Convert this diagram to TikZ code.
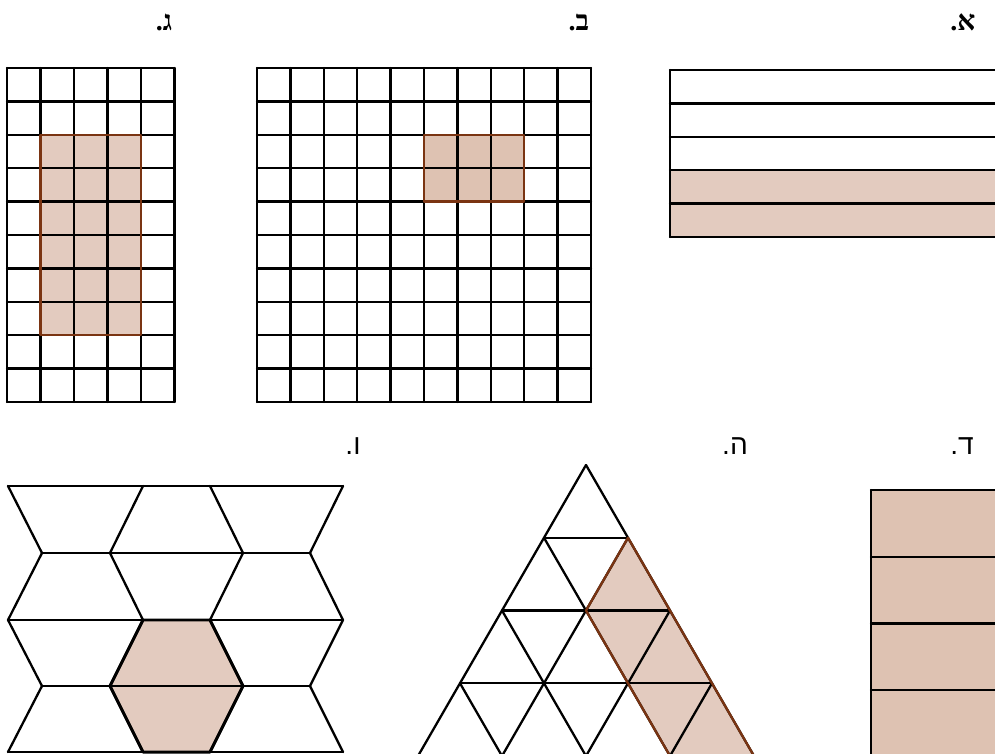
\documentclass[tikz,border=0pt]{standalone}
\usepackage{fontspec}
\usetikzlibrary{positioning}
\TeXXeTstate=1
\newfontfamily\hebserif[Script=Hebrew]{Liberation Serif}
\newfontfamily\hebsans[Script=Hebrew]{Liberation Sans}
\definecolor{tintlight}{HTML}{E3CBBF}
\definecolor{tintdark}{HTML}{DEC2B2}
\definecolor{rim}{HTML}{7A3412}
\tikzset{
  every picture/.style={line cap=round, line join=round},
  cell/.style={line width=1.3pt, black},
  patch/.style={line width=1.3pt, draw=rim},
  hexrim/.style={line width=1.7pt, black},
  % labels above each figure
  lbltop/.style={font=\hebserif\bfseries\fontsize{16}{18}\selectfont, inner sep=0pt},
  lblbot/.style={font=\hebsans\fontsize{16}{18}\selectfont, inner sep=0pt},
}

\begin{document}
\begin{tikzpicture}[x=0.02cm, y=-0.02cm]
  \useasboundingbox (0,0) rectangle (995,754);
  \clip (0,0) rectangle (995,754);
  % ---------- labels
  \node[lbltop] (la) at (963,22) {\beginR א.\endR};
  \node[lbltop] (lb) at (579,22) {\beginR ב.\endR};
  \node[lbltop] (lc) at (164,22) {\beginR ג.\endR};
  \node[lblbot] (ld) at (962,446) {\beginR ד.\endR};
  \node[lblbot] (le) at (735,446) {\beginR ה.\endR};
  \node[lblbot] (lf) at (353,446) {\beginR ו.\endR};
  % ---------- a: five strips, the lower two shaded
  \fill[tintlight] (670,170.2) rectangle (1000,237);
  \foreach \k in {0,...,5}
    \draw[cell] (670,{70+33.4*\k}) -- (1000,{70+33.4*\k});
  \draw[cell] (670,70) -- (670,237);
  % ---------- b: 10 x 10 squares, 2 x 3 shaded
  \fill[tintdark] (424,134.8) rectangle (524.2,201.6);
  \foreach \k in {0,...,10}{
    \draw[cell] ({257+33.4*\k},68) -- ({257+33.4*\k},402);
    \draw[cell] (257,{68+33.4*\k}) -- (591,{68+33.4*\k});
  }
  \draw[patch] (424,134.8) rectangle (524.2,201.6);
  % ---------- c: 5 x 10 squares, 3 x 6 shaded
  \fill[tintlight] (40.5,134.8) rectangle (141,335.2);
  \foreach \k in {0,...,5}
    \draw[cell] ({7+33.5*\k},68) -- ({7+33.5*\k},402);
  \foreach \k in {0,...,10}
    \draw[cell] (7,{68+33.4*\k}) -- (174.5,{68+33.4*\k});
  \draw[patch] (40.5,134.8) rectangle (141,335.2);
  % ---------- d: all strips shaded
  \fill[tintdark] (871,490) rectangle (1000,760);
  \foreach \k in {0,...,4}
    \draw[cell] (871,{490+66.7*\k}) -- (1000,{490+66.7*\k});
  \draw[cell] (871,490) -- (871,760);
  % ---------- e: triangle lattice, strip along the right side shaded
  \foreach \i in {0,...,4}
    \foreach \j in {0,...,\i}
      \coordinate (t\i\j) at ({586+84*(\j-\i/2)},{465+72.75*\i});
  \fill[tintlight] (t11) -- (t21) -- (t43) -- (t44) -- cycle;
  \foreach \i in {1,...,4}
    \draw[cell] (t\i0) -- (t\i\i);
  \foreach \j in {0,...,3}
    \draw[cell] (t\j\j) -- (t4\j);
  \foreach \m/\e in {0/4,1/3,2/2,3/1}
    \draw[cell] (t\m0) -- (t4\e);
  \draw[patch] (t11) -- (t21) -- (t43) (t44) -- (t11);
  % ---------- f: hexagon pattern, one hexagon shaded
  \fill[tintlight] (143,620) -- (210,620) -- (243,686) -- (210,752) -- (143,752) -- (110,686) -- cycle;
  \foreach \y in {486,620,752}
    \draw[cell] (8,\y) -- (343,\y);
  \foreach \y in {553,686}
    \draw[cell] (42,\y) -- (310,\y);
  \foreach \t/\b/\e in {486/553/620,620/686/752}{
    \draw[cell] (8,\t) -- (42,\b) (143,\t) -- (110,\b) (210,\t) -- (243,\b) (343,\t) -- (310,\b);
    \draw[cell] (42,\b) -- (8,\e) (110,\b) -- (143,\e) (243,\b) -- (210,\e) (310,\b) -- (343,\e);
  }
  \draw[hexrim] (143,620) -- (210,620) -- (243,686) -- (210,752) -- (143,752) -- (110,686) -- cycle;
\end{tikzpicture}
\end{document}
